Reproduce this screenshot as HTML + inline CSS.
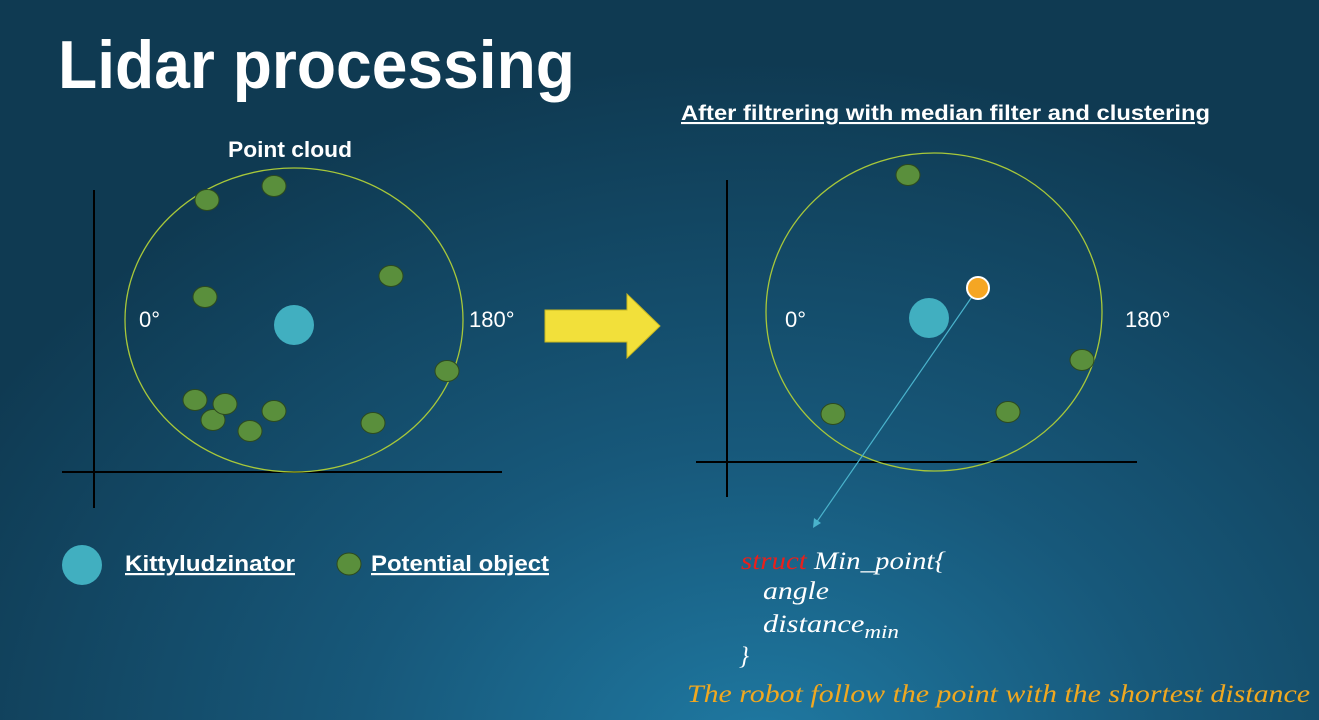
<!DOCTYPE html>
<html><head><meta charset="utf-8"><style>
html,body{margin:0;padding:0;width:1319px;height:720px;overflow:hidden}
body{background:radial-gradient(ellipse 900px 700px at 760px 760px,#1f7aa3 0%,#17587a 45%,#0f3a52 100%);}
svg{position:absolute;left:0;top:0}
text{font-family:"Liberation Sans",sans-serif;fill:#fff}
.m{font-family:"Liberation Serif",serif;font-style:italic;font-size:25px}
</style></head><body>
<svg width="1319" height="720">
<text x="58" y="88" font-size="68" font-weight="bold" fill="#f0f0f0" textLength="517" lengthAdjust="spacingAndGlyphs">Lidar processing</text>
<text x="228" y="157" font-size="22" font-weight="bold" textLength="124" lengthAdjust="spacingAndGlyphs">Point cloud</text>
<text x="681" y="120" font-size="21" font-weight="bold" text-decoration="underline" textLength="529" lengthAdjust="spacingAndGlyphs">After filtrering with median filter and clustering</text>
<g id="left"></g>
<g id="right"></g>
<polygon points="545,310 627,310 627,294 660,326 627,358 627,342 545,342" fill="#f2e03a" stroke="#c8b820"/>
<circle cx="82" cy="565" r="20" fill="#41afc0"/>
<text x="125" y="571" font-size="22" font-weight="bold" text-decoration="underline" textLength="170" lengthAdjust="spacingAndGlyphs">Kittyludzinator</text>
<ellipse cx="349" cy="564" rx="12" ry="11" fill="#5a8f3c" stroke="#2d4a1e"/>
<text x="371" y="571" font-size="22" font-weight="bold" text-decoration="underline" textLength="178" lengthAdjust="spacingAndGlyphs">Potential object</text>
<text x="741" y="569" class="m" textLength="205" lengthAdjust="spacingAndGlyphs"><tspan fill="#e8201c" style="fill:#e8201c">struct</tspan> Min_point{</text>
<text x="763" y="599" class="m" textLength="66" lengthAdjust="spacingAndGlyphs">angle</text>
<text x="763" y="632" class="m" textLength="136" lengthAdjust="spacingAndGlyphs">distance<tspan font-size="19" dy="6">min</tspan></text>
<text x="739" y="664" class="m">}</text>
<text x="687" y="702" class="m" style="fill:#f0a820" textLength="623" lengthAdjust="spacingAndGlyphs">The robot follow the point with the shortest distance</text>
</svg>
<script>
const leftObjX=[207,274,391,205,447,195,213,225,250,274,373];
const leftObjY=[200,186,276,297,371,400,420,404,431,411,423];
const rightObjX=[908,1082,1008,833];
const rightObjY=[175,360,412,414];
const NS="http://www.w3.org/2000/svg";
function mk(p,t,a){const e=document.createElementNS(NS,t);for(const k in a)e.setAttribute(k,a[k]);p.appendChild(e);return e;}
function panel(g,cfg,xs,ys){
 let e;
 e=mk(g,'line',{x1:cfg.vx,y1:cfg.vy1,x2:cfg.vx,y2:cfg.vy2,stroke:'#000','stroke-width':2});
 
 
 e=mk(g,'line',{x1:cfg.hx1,y1:cfg.hy,x2:cfg.hx2,y2:cfg.hy,stroke:'#000','stroke-width':2});
 
 
 e=mk(g,'ellipse',{cx:cfg.ex,cy:cfg.ey,rx:cfg.erx,ry:cfg.ery,fill:'none',stroke:'#a8c83a','stroke-width':1.3});
 
 
 e=mk(g,'circle',{cx:cfg.bx,cy:cfg.by,r:20,fill:'#41afc0'});
 
 
 for(let i=0;i<xs.length;i++){
  e=mk(g,'ellipse',{cx:xs[i],cy:ys[i],rx:12,ry:10.5,fill:'#5a8f3c',stroke:'#2d4a1e'});
  
  
 }
 e=mk(g,'text',{x:cfg.l0,y:327,'font-size':22});e.textContent='0°';
 
 
 e=mk(g,'text',{x:cfg.l180,y:327,'font-size':22});e.textContent='180°';
 
 
}
panel(document.getElementById('left'),{vx:94,vy1:190,vy2:508,hx1:62,hx2:502,hy:472,ex:294,ey:320,erx:169,ery:152,bx:294,by:325,l0:139,l180:469},leftObjX,leftObjY);
const R=document.getElementById('right');
panel(R,{vx:727,vy1:180,vy2:497,hx1:696,hx2:1137,hy:462,ex:934,ey:312,erx:168,ery:159,bx:929,by:318,l0:785,l180:1125},rightObjX,rightObjY);
let ln=mk(R,'line',{x1:978,y1:288,x2:816,y2:523,stroke:'#4ab3cc','stroke-width':1.2});


let ah=mk(R,'polygon',{points:'813,528 814,518 821,523',fill:'#4ab3cc'});


let mp=mk(R,'circle',{cx:978,cy:288,r:11,fill:'#f5a623',stroke:'#fff','stroke-width':2});


</script>
</body></html>
